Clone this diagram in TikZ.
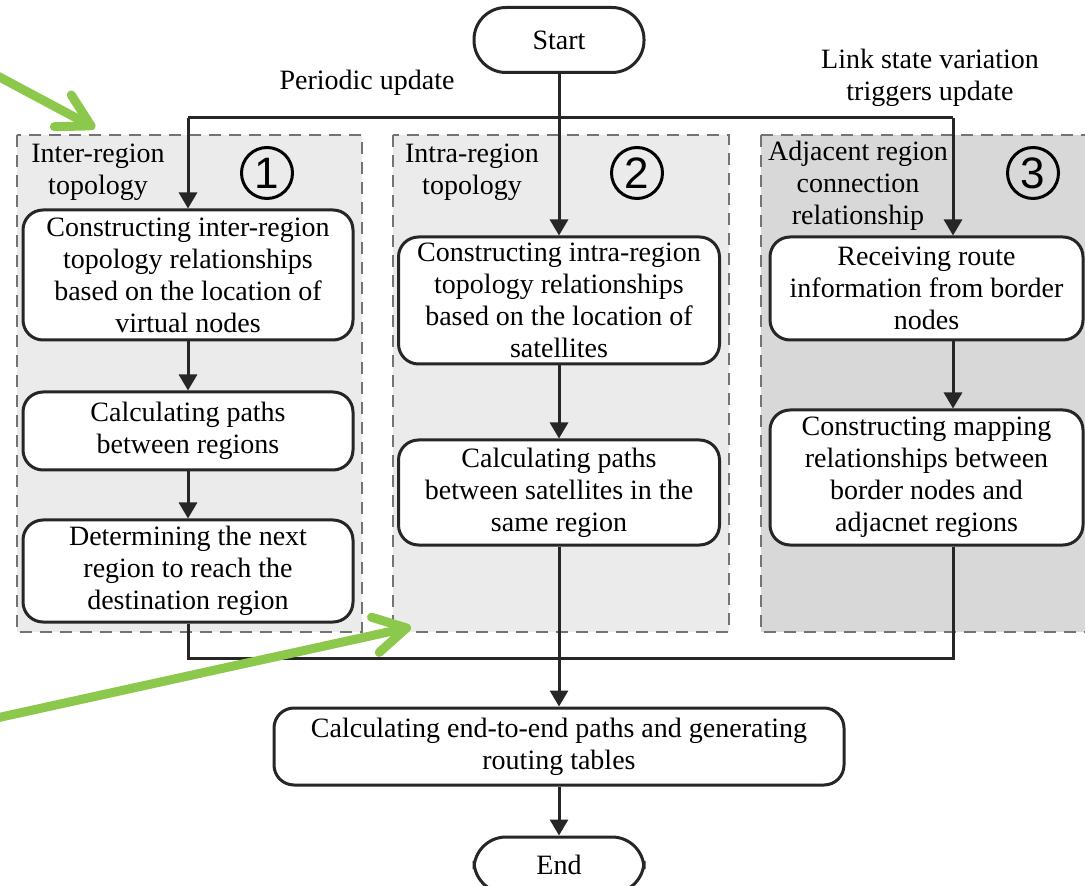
\documentclass[tikz,border=0pt]{standalone}
\usepackage{fontspec}
\setmainfont{Liberation Serif}
\newfontfamily\numfont{Liberation Sans}
\usetikzlibrary{arrows.meta, positioning}
\definecolor{figgrey}{HTML}{EBEBEB}
\definecolor{figdark}{HTML}{D8D8D8}
\definecolor{figgreen}{HTML}{8CC84B}
\tikzset{
  flowbox/.style={draw=black!85, line width=1.5pt, rounded corners=10pt, fill=white, align=center,
    inner sep=1pt, font=\fontsize{14}{16}\selectfont},
  pillbox/.style={flowbox, rounded corners=16pt, minimum width=85pt, minimum height=32.5pt},
  regionbg/.style={draw=black!55, line width=0.75pt, dash pattern=on 6pt off 4pt},
  flowarrow/.style={-{Triangle[length=8pt,width=9pt]}, line width=1.5pt, black!85},
  flowline/.style={line width=1.5pt, black!85},
  figlabel/.style={align=center, font=\fontsize{14}{16}\selectfont},
  numcircle/.style={circle, draw=black, line width=1.5pt, minimum size=25.5pt, inner sep=0pt,
    font=\numfont\fontsize{22}{22}\selectfont},
  greenmark/.style={figgreen, line width=4.5pt, line cap=round,
    -{Straight Barb[length=16pt,width=18pt,round]}},
}

\begin{document}
\begin{tikzpicture}[x=0.5pt,y=-0.5pt]
  \useasboundingbox (0,0) rectangle (1085,886);
  \clip (0,0) rectangle (1085,886);
  % Regionen
  \draw[regionbg, fill=figgrey] (17,135) rectangle (362,632);
  \draw[regionbg, fill=figgrey] (393,135) rectangle (729,632);
  \draw[regionbg, fill=figdark] (761,135) rectangle (1100,632);
  \node[figlabel] (lab1) at (98,172) {Inter-region\\topology};
  \node[figlabel] (lab2) at (472,172) {Intra-region\\topology};
  \node[figlabel] (lab3) at (858,186) {Adjacent region\\connection\\relationship};
  \node[numcircle] (num1) at (267,173) {1};
  \node[numcircle] (num2) at (637,173) {2};
  \node[numcircle] (num3) at (1033,173) {3};

  % Start und Trigger
  \node[pillbox] (start) at (559,40) {Start};
  \node[figlabel] (periodic) at (367,83) {Periodic update};
  \node[figlabel] (trigger) at (930,78) {Link state variation\\triggers update};

  % Spalte 1
  \node[flowbox, minimum width=165pt, minimum height=65pt] (inter1) at (188,275)
    {Constructing inter-region\\topology relationships\\based on the location of\\virtual nodes};
  \node[flowbox, minimum width=165pt, minimum height=39pt] (inter2) at (188,431)
    {Calculating paths\\between regions};
  \node[flowbox, minimum width=165pt, minimum height=51pt] (inter3) at (188,571)
    {Determining the next\\region to reach the\\destination region};
  % Spalte 2
  \node[flowbox, minimum width=160.5pt, minimum height=63.5pt] (intra1) at (559,300.5)
    {Constructing intra-region\\topology relationships\\based on the location of\\satellites};
  \node[flowbox, minimum width=160.5pt, minimum height=52.5pt] (intra2) at (559,492.5)
    {Calculating paths\\between satellites in the\\same region};
  % Spalte 3
  \node[flowbox, minimum width=156.5pt, minimum height=51.5pt] (adj1) at (926.5,288.5)
    {Receiving route\\information from border\\nodes};
  \node[flowbox, minimum width=156.5pt, minimum height=67.5pt] (adj2) at (926.5,477.5)
    {Constructing mapping\\relationships between\\border nodes and\\adjacnet regions};

  % Ende
  \node[flowbox, minimum width=285pt, minimum height=38.5pt] (final) at (559,746.5)
    {Calculating end-to-end paths and generating\\routing tables};
  \node[pillbox, minimum height=28pt] (end) at (559,865) {End};

  % Verbindungen
  \coordinate (topL) at (188,118);
  \coordinate (topR) at (953,118);
  \coordinate (botL) at (188,658);
  \coordinate (botR) at (953,658);
  \draw[flowarrow] (start) -- (intra1);
  \draw[flowline] (topL) -- (topR);
  \draw[flowarrow] (topL) -- (inter1);
  \draw[flowarrow] (topR) -- (topR |- adj1.north);
  \draw[flowarrow] (inter1) -- (inter2);
  \draw[flowarrow] (inter2) -- (inter3);
  \draw[flowarrow] (intra1) -- (intra2);
  \draw[flowarrow] (adj1.south -| topR) -- (adj2.north -| topR);
  \draw[flowline] (inter3) -- (botL) -- (botR) -- (botR |- adj2.south);
  \draw[flowarrow] (intra2) -- (final);
  \draw[flowarrow] (final) -- (end);

  % gruene Markierungen
  \coordinate (mkA0) at (-8,73);
  \coordinate (mkA1) at (95,128);
  \coordinate (mkB0) at (-8,719);
  \coordinate (mkB1) at (411,627);
  \draw[greenmark] (mkA0) -- (mkA1);
  \draw[greenmark] (mkB0) -- (mkB1);
\end{tikzpicture}
\end{document}
